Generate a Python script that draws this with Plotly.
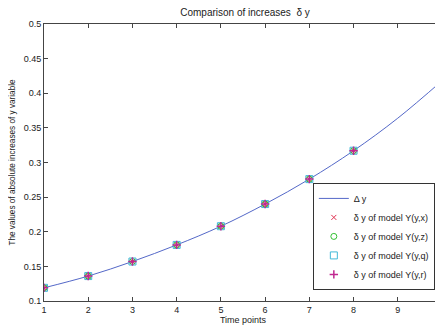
import plotly.graph_objects as go

time_points = [1, 2, 3, 4, 5, 6, 7, 8, 9, 10]
delta_y = [0.119, 0.136, 0.157, 0.181, 0.208, 0.240, 0.276, 0.317, 0.364, 0.418]

model_x = [1, 2, 3, 4, 5, 6, 7, 8]
model_yx = [0.119, 0.136, 0.157, 0.181, 0.208, 0.240, 0.276, 0.317]
model_yz = [0.119, 0.136, 0.157, 0.181, 0.208, 0.240, 0.276, 0.317]
model_yq = [0.119, 0.136, 0.157, 0.181, 0.208, 0.240, 0.276, 0.317]
model_yr = [0.119, 0.136, 0.157, 0.181, 0.208, 0.240, 0.276, 0.317]

y_ticks = [0.1, 0.15, 0.2, 0.25, 0.3, 0.35, 0.4, 0.45, 0.5]
y_tick_text = ["0.1", "0.15", "0.2", "0.25", "0.3", "0.35", "0.4", "0.45", "0.5"]
x_ticks = [1, 2, 3, 4, 5, 6, 7, 8, 9, 10]

font = "Liberation Sans, Arial, sans-serif"

fig = go.Figure()
fig.add_trace(go.Scatter(x=time_points, y=delta_y, mode="lines", name="Δ y",
                         line=dict(color="#5468c8", width=1), line_shape="spline"))
fig.add_trace(go.Scatter(x=model_x, y=model_yx, mode="markers", name="δ y of model Y(y,x)",
                         marker=dict(symbol="x-thin", size=5, line=dict(color="#e03050", width=1), color="#e03050")))
fig.add_trace(go.Scatter(x=model_x, y=model_yz, mode="markers", name="δ y of model Y(y,z)",
                         marker=dict(symbol="circle-open", size=6, line=dict(color="#30c030", width=1), color="#30c030")))
fig.add_trace(go.Scatter(x=model_x, y=model_yq, mode="markers", name="δ y of model Y(y,q)",
                         marker=dict(symbol="square-open", size=7, line=dict(color="#40b8d8", width=1), color="#40b8d8")))
fig.add_trace(go.Scatter(x=model_x, y=model_yr, mode="markers", name="δ y of model Y(y,r)",
                         marker=dict(symbol="cross-thin", size=6, line=dict(color="#c02890", width=1.5), color="#c02890")))

axis_common = dict(showline=True, linecolor="#444", linewidth=1, mirror="ticks",
                   ticks="inside", ticklen=4, tickcolor="#444", showgrid=False,
                   zeroline=False, automargin=False,
                   tickfont=dict(family=font, size=9, color="#222"))

# the page adds an 8px body margin, so margins are shifted accordingly
fig.update_layout(
    width=443, height=325,
    margin=dict(l=36, r=9, t=16, b=32),
    paper_bgcolor="white", plot_bgcolor="white",
    title=dict(text="Comparison of increases  δ y", x=0.535, xanchor="center", y=0.985, yanchor="middle",
               font=dict(family=font, size=10, color="#222")),
    xaxis=dict(range=[1, 10], tickvals=x_ticks,
               title=dict(text="Time points", font=dict(family=font, size=9, color="#222"), standoff=2),
               **axis_common),
    yaxis=dict(range=[0.1, 0.5], tickvals=y_ticks, ticktext=y_tick_text,
               title=dict(text="The values of absolute increases of y variable",
                          font=dict(family=font, size=8.2, color="#222"), standoff=12),
               **axis_common),
    legend=dict(x=0.982, y=0.04, xanchor="right", yanchor="bottom",
                bgcolor="white", bordercolor="#333", borderwidth=1,
                font=dict(family=font, size=9, color="#222"),
                tracegroupgap=0, itemwidth=30),
    showlegend=True,
)

fig.write_html("out.html")
